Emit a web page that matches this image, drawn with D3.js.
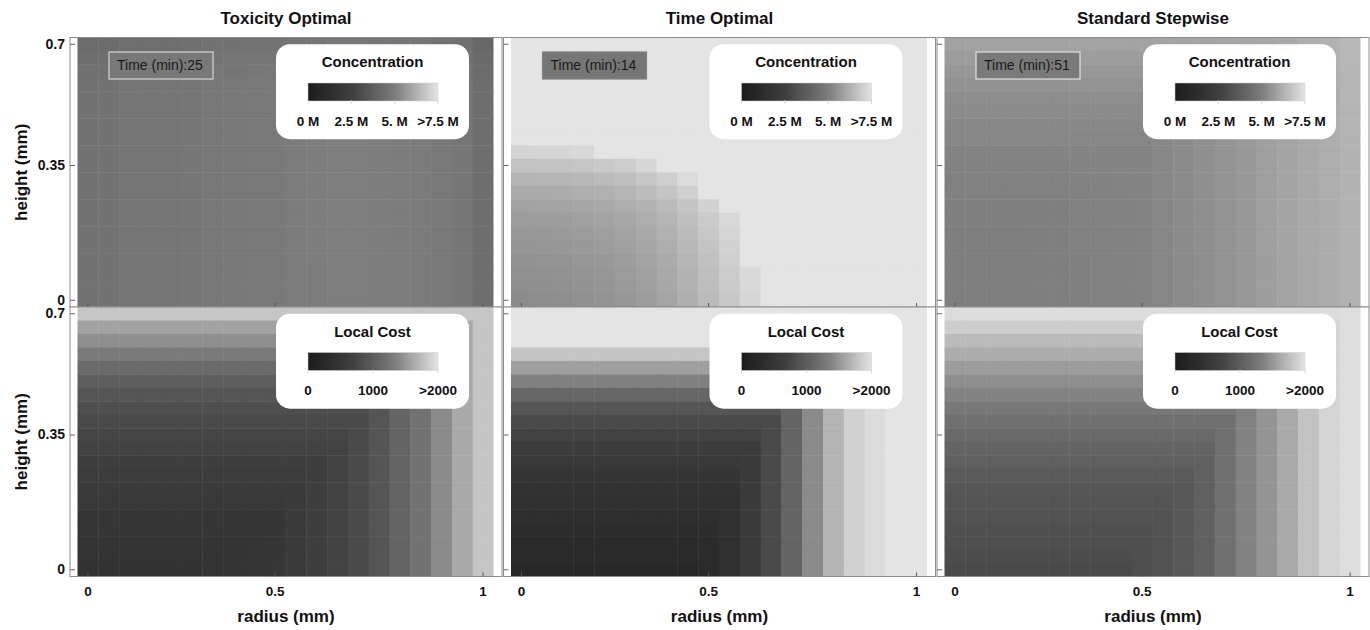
<!DOCTYPE html>
<html><head><meta charset="utf-8">
<script src="https://cdn.jsdelivr.net/npm/d3@7"></script>
<style>
body{margin:0;background:#fff}
text{font-family:"Liberation Sans",Arial,sans-serif}
</style>
</head><body>
<svg id="chart" width="1370" height="630"></svg>
<script>
// ---------- labels ----------
const panelTitles = ["Toxicity Optimal", "Time Optimal", "Standard Stepwise"];
const timesMin = [25, 14, 51];
const radiusTickLabels = ["0", "0.5", "1"];      // at column index 0, 9, 19
const heightTickLabels = ["0.7", "0.35", "0"];   // at row index 0, 9, 19
const tickIndex = [0, 9, 19];
const concLegendLabels = ["0 M", "2.5 M", "5. M", ">7.5 M"];
const concLegendValues = [0, 2.5, 5, 7.5];
const costLegendLabels = ["0", "1000", ">2000"];
const costLegendValues = [0, 1000, 2000];
const concMax = 7.5, costMax = 2000;

// ---------- data: concentration (M), rows top (0.7 mm) -> bottom (0 mm), cols r = 0 -> 1 mm ----------
const concToxicity = [
[4.35,4.35,4.47,4.47,4.47,4.51,4.59,4.59,4.63,4.63,4.75,4.77,4.80,4.80,4.77,4.75,4.71,4.63,4.51,4.19],
[4.45,4.45,4.57,4.57,4.57,4.61,4.69,4.69,4.73,4.73,4.85,4.87,4.90,4.90,4.87,4.85,4.81,4.73,4.61,4.29],
[4.52,4.52,4.64,4.64,4.64,4.68,4.76,4.76,4.80,4.80,4.92,4.94,4.97,4.97,4.94,4.92,4.88,4.80,4.68,4.36],
[4.57,4.58,4.69,4.70,4.70,4.74,4.82,4.82,4.86,4.86,4.98,5.00,5.03,5.03,5.00,4.98,4.94,4.86,4.74,4.41],
[4.59,4.60,4.71,4.72,4.72,4.76,4.84,4.84,4.88,4.88,5.00,5.02,5.05,5.05,5.02,5.00,4.96,4.88,4.76,4.43],
[4.60,4.60,4.72,4.72,4.72,4.76,4.84,4.84,4.88,4.88,5.00,5.02,5.05,5.05,5.02,5.00,4.96,4.88,4.76,4.44],
[4.60,4.60,4.72,4.72,4.72,4.76,4.84,4.84,4.88,4.88,5.00,5.02,5.05,5.05,5.02,5.00,4.96,4.88,4.76,4.44],
[4.60,4.61,4.72,4.72,4.73,4.76,4.84,4.85,4.88,4.89,5.00,5.02,5.05,5.05,5.02,5.00,4.96,4.88,4.76,4.44],
[4.60,4.60,4.72,4.72,4.72,4.76,4.84,4.84,4.88,4.88,5.00,5.02,5.05,5.05,5.02,5.00,4.96,4.88,4.76,4.44],
[4.61,4.61,4.72,4.73,4.73,4.77,4.85,4.85,4.89,4.89,5.01,5.03,5.06,5.06,5.03,5.01,4.97,4.89,4.77,4.45],
[4.60,4.60,4.72,4.72,4.72,4.76,4.84,4.84,4.88,4.88,5.00,5.02,5.05,5.05,5.02,5.00,4.96,4.88,4.76,4.44],
[4.60,4.60,4.72,4.72,4.72,4.76,4.84,4.84,4.88,4.88,5.00,5.02,5.05,5.05,5.02,5.00,4.96,4.88,4.76,4.44],
[4.61,4.61,4.73,4.73,4.73,4.77,4.85,4.85,4.89,4.89,5.01,5.03,5.06,5.06,5.03,5.01,4.97,4.89,4.77,4.45],
[4.60,4.60,4.72,4.72,4.72,4.76,4.84,4.84,4.88,4.88,5.00,5.02,5.05,5.05,5.02,5.00,4.96,4.88,4.76,4.44],
[4.60,4.60,4.72,4.72,4.72,4.76,4.84,4.84,4.88,4.88,5.00,5.02,5.05,5.05,5.02,5.00,4.96,4.88,4.76,4.44],
[4.60,4.60,4.71,4.72,4.72,4.76,4.83,4.84,4.88,4.88,5.00,5.02,5.04,5.05,5.02,5.00,4.96,4.88,4.76,4.44],
[4.60,4.60,4.72,4.72,4.72,4.76,4.84,4.84,4.88,4.88,5.00,5.02,5.05,5.05,5.02,5.00,4.96,4.88,4.76,4.44],
[4.59,4.60,4.71,4.72,4.72,4.76,4.84,4.84,4.87,4.88,5.00,5.01,5.04,5.05,5.02,5.00,4.96,4.88,4.76,4.43],
[4.59,4.59,4.71,4.71,4.71,4.75,4.83,4.83,4.87,4.87,4.99,5.01,5.04,5.04,5.01,4.99,4.95,4.87,4.75,4.43],
[4.58,4.58,4.70,4.70,4.70,4.74,4.82,4.82,4.86,4.86,4.98,5.00,5.03,5.03,5.00,4.98,4.94,4.86,4.74,4.42]
];
const concTime = [
[7.5,7.5,7.5,7.5,7.5,7.5,7.5,7.5,7.5,7.5,7.5,7.5,7.5,7.5,7.5,7.5,7.5,7.5,7.5,7.5],
[7.5,7.5,7.5,7.5,7.5,7.5,7.5,7.5,7.5,7.5,7.5,7.5,7.5,7.5,7.5,7.5,7.5,7.5,7.5,7.5],
[7.5,7.5,7.5,7.5,7.5,7.5,7.5,7.5,7.5,7.5,7.5,7.5,7.5,7.5,7.5,7.5,7.5,7.5,7.5,7.5],
[7.5,7.5,7.5,7.5,7.5,7.5,7.5,7.5,7.5,7.5,7.5,7.5,7.5,7.5,7.5,7.5,7.5,7.5,7.5,7.5],
[7.5,7.5,7.5,7.5,7.5,7.5,7.5,7.5,7.5,7.5,7.5,7.5,7.5,7.5,7.5,7.5,7.5,7.5,7.5,7.5],
[7.5,7.5,7.5,7.5,7.5,7.5,7.5,7.5,7.5,7.5,7.5,7.5,7.5,7.5,7.5,7.5,7.5,7.5,7.5,7.5],
[7.5,7.5,7.5,7.5,7.5,7.5,7.5,7.5,7.5,7.5,7.5,7.5,7.5,7.5,7.5,7.5,7.5,7.5,7.5,7.5],
[7.5,7.5,7.5,7.5,7.5,7.5,7.5,7.5,7.5,7.5,7.5,7.5,7.5,7.5,7.5,7.5,7.5,7.5,7.5,7.5],
[7.12,7.14,7.16,7.21,7.5,7.5,7.5,7.5,7.5,7.5,7.5,7.5,7.5,7.5,7.5,7.5,7.5,7.5,7.5,7.5],
[6.68,6.71,6.73,6.78,6.85,6.97,7.16,7.5,7.5,7.5,7.5,7.5,7.5,7.5,7.5,7.5,7.5,7.5,7.5,7.5],
[6.35,6.37,6.39,6.44,6.51,6.61,6.78,7.00,7.31,7.5,7.5,7.5,7.5,7.5,7.5,7.5,7.5,7.5,7.5,7.5],
[6.11,6.13,6.15,6.20,6.27,6.37,6.54,6.75,7.02,7.5,7.5,7.5,7.5,7.5,7.5,7.5,7.5,7.5,7.5,7.5],
[5.91,5.94,5.96,6.01,6.08,6.18,6.32,6.51,6.75,7.07,7.5,7.5,7.5,7.5,7.5,7.5,7.5,7.5,7.5,7.5],
[5.77,5.79,5.82,5.87,5.94,6.03,6.18,6.37,6.61,6.90,7.19,7.5,7.5,7.5,7.5,7.5,7.5,7.5,7.5,7.5],
[5.67,5.70,5.72,5.77,5.84,5.94,6.08,6.27,6.51,6.80,7.12,7.5,7.5,7.5,7.5,7.5,7.5,7.5,7.5,7.5],
[5.60,5.63,5.65,5.70,5.77,5.87,6.01,6.20,6.44,6.73,7.07,7.5,7.5,7.5,7.5,7.5,7.5,7.5,7.5,7.5],
[5.53,5.55,5.58,5.63,5.70,5.79,5.94,6.13,6.37,6.66,7.00,7.5,7.5,7.5,7.5,7.5,7.5,7.5,7.5,7.5],
[5.48,5.50,5.53,5.58,5.65,5.75,5.89,6.08,6.32,6.61,6.92,7.26,7.5,7.5,7.5,7.5,7.5,7.5,7.5,7.5],
[5.43,5.46,5.48,5.53,5.60,5.70,5.84,6.03,6.27,6.56,6.87,7.21,7.5,7.5,7.5,7.5,7.5,7.5,7.5,7.5],
[5.38,5.41,5.43,5.48,5.55,5.65,5.79,5.99,6.23,6.51,6.83,7.16,7.5,7.5,7.5,7.5,7.5,7.5,7.5,7.5]
];
const concStepwise = [
[5.92,5.92,5.92,5.92,5.92,5.92,5.93,5.93,5.93,5.94,5.95,5.96,5.97,5.99,6.01,6.03,6.08,6.20,6.29,6.44],
[5.78,5.78,5.78,5.78,5.78,5.78,5.79,5.79,5.79,5.80,5.81,5.82,5.83,5.85,5.87,5.94,6.06,6.18,6.27,6.42],
[5.66,5.66,5.66,5.66,5.66,5.66,5.67,5.67,5.67,5.68,5.69,5.70,5.71,5.73,5.77,5.92,6.04,6.16,6.25,6.40],
[5.54,5.54,5.54,5.54,5.54,5.54,5.55,5.55,5.55,5.56,5.57,5.58,5.59,5.63,5.75,5.90,6.02,6.14,6.23,6.38],
[5.42,5.42,5.42,5.42,5.42,5.42,5.43,5.43,5.43,5.44,5.45,5.46,5.49,5.61,5.73,5.88,6.00,6.12,6.21,6.36],
[5.35,5.35,5.35,5.35,5.35,5.35,5.36,5.36,5.36,5.37,5.38,5.39,5.48,5.60,5.72,5.87,5.99,6.11,6.20,6.35],
[5.27,5.27,5.27,5.27,5.27,5.27,5.28,5.28,5.28,5.29,5.30,5.38,5.47,5.59,5.71,5.86,5.98,6.10,6.19,6.34],
[5.23,5.23,5.23,5.23,5.23,5.23,5.24,5.24,5.24,5.25,5.27,5.37,5.46,5.58,5.70,5.85,5.97,6.09,6.18,6.33],
[5.18,5.18,5.18,5.18,5.18,5.18,5.19,5.19,5.19,5.20,5.27,5.37,5.46,5.58,5.70,5.85,5.97,6.09,6.18,6.33],
[5.15,5.15,5.15,5.15,5.15,5.15,5.16,5.16,5.16,5.19,5.26,5.36,5.45,5.57,5.69,5.84,5.96,6.08,6.17,6.32],
[5.13,5.13,5.13,5.13,5.13,5.13,5.14,5.14,5.16,5.19,5.26,5.36,5.45,5.57,5.69,5.84,5.96,6.08,6.17,6.32],
[5.11,5.11,5.11,5.11,5.11,5.11,5.12,5.14,5.16,5.19,5.26,5.36,5.45,5.57,5.69,5.84,5.96,6.08,6.17,6.32],
[5.08,5.08,5.08,5.08,5.08,5.08,5.11,5.13,5.15,5.18,5.25,5.35,5.44,5.56,5.68,5.83,5.95,6.07,6.16,6.31],
[5.08,5.08,5.08,5.08,5.08,5.08,5.11,5.13,5.15,5.18,5.25,5.35,5.44,5.56,5.68,5.83,5.95,6.07,6.16,6.31],
[5.06,5.06,5.06,5.06,5.08,5.08,5.11,5.13,5.15,5.18,5.25,5.35,5.44,5.56,5.68,5.83,5.95,6.07,6.16,6.31],
[5.06,5.06,5.06,5.06,5.08,5.08,5.11,5.13,5.15,5.18,5.25,5.35,5.44,5.56,5.68,5.83,5.95,6.07,6.16,6.31],
[5.05,5.05,5.05,5.05,5.07,5.07,5.10,5.12,5.14,5.17,5.24,5.34,5.43,5.55,5.67,5.82,5.94,6.06,6.15,6.30],
[5.05,5.05,5.05,5.05,5.07,5.07,5.10,5.12,5.14,5.17,5.24,5.34,5.43,5.55,5.67,5.82,5.94,6.06,6.15,6.30],
[5.05,5.05,5.05,5.05,5.07,5.07,5.10,5.12,5.14,5.17,5.24,5.34,5.43,5.55,5.67,5.82,5.94,6.06,6.15,6.30],
[5.05,5.05,5.05,5.05,5.07,5.07,5.10,5.12,5.14,5.17,5.24,5.34,5.43,5.55,5.67,5.82,5.94,6.06,6.15,6.30]
];

// ---------- data: local cost ----------
const costToxicity = [
[1810,1810,1810,1810,1810,1810,1810,1810,1810,1810,1810,1810,1810,1810,1810,1810,1810,1810,1810,1810],
[1580,1580,1580,1580,1580,1580,1580,1580,1580,1580,1580,1580,1580,1580,1580,1580,1580,1580,1620,1800],
[1450,1450,1450,1450,1450,1450,1450,1450,1450,1450,1450,1450,1450,1450,1450,1450,1450,1450,1620,1800],
[1310,1310,1310,1310,1310,1310,1310,1310,1310,1310,1310,1310,1310,1310,1310,1310,1310,1420,1620,1800],
[1140,1140,1140,1140,1140,1140,1140,1140,1140,1140,1140,1140,1140,1140,1140,1140,1230,1420,1620,1800],
[1010,1010,1010,1010,1010,1010,1010,1010,1010,1010,1010,1010,1010,1010,1010,1080,1230,1420,1620,1800],
[910,910,910,910,910,910,910,910,910,910,910,910,910,910,910,1080,1230,1420,1620,1800],
[840,840,840,840,840,840,840,840,840,840,840,840,840,840,910,1080,1230,1420,1620,1800],
[800,800,800,800,800,800,800,800,800,800,800,800,800,800,910,1080,1230,1420,1620,1800],
[740,740,740,740,740,740,740,740,740,740,740,740,740,800,910,1080,1230,1420,1620,1800],
[710,710,710,710,710,710,710,710,710,710,710,710,720,800,910,1080,1230,1420,1620,1800],
[670,670,670,670,670,670,670,670,670,670,670,670,720,800,910,1080,1230,1420,1620,1800],
[630,630,630,630,630,630,630,630,630,630,630,670,720,800,910,1080,1230,1420,1620,1800],
[590,590,590,590,590,590,590,590,590,590,590,670,720,800,910,1080,1230,1420,1620,1800],
[550,550,550,550,550,550,550,550,550,550,590,670,720,800,910,1080,1230,1420,1620,1800],
[510,510,510,510,510,510,510,510,510,510,590,670,720,800,910,1080,1230,1420,1620,1800],
[490,490,490,490,490,490,490,490,490,510,590,670,720,800,910,1080,1230,1420,1620,1800],
[470,470,470,470,470,470,470,470,490,510,590,670,720,800,910,1080,1230,1420,1620,1800],
[450,450,450,450,450,450,450,470,490,510,590,670,720,800,910,1080,1230,1420,1620,1800],
[430,430,430,430,430,430,450,470,490,510,590,670,720,800,910,1080,1230,1420,1620,1800]
];
const costTime = [
[2100,2100,2100,2100,2100,2100,2100,2100,2100,2100,2100,2100,2100,2100,2100,2100,2100,2100,2100,2100],
[2100,2100,2100,2100,2100,2100,2100,2100,2100,2100,2100,2100,2100,2100,2100,2100,2100,2100,2100,2100],
[2100,2100,2100,2100,2100,2100,2100,2100,2100,2100,2100,2100,2100,2100,2100,2100,2100,2100,2100,2100],
[1800,1800,1800,1800,1800,1800,1800,1800,1800,1800,1800,1800,1800,1800,1800,1800,1880,1950,2100,2100],
[1560,1560,1560,1560,1560,1560,1560,1560,1560,1560,1560,1560,1560,1560,1560,1690,1880,1950,2100,2100],
[1360,1360,1360,1360,1360,1360,1360,1360,1360,1360,1360,1360,1360,1360,1420,1690,1880,1950,2100,2100],
[1100,1100,1100,1100,1100,1100,1100,1100,1100,1100,1100,1100,1100,1100,1420,1690,1880,1950,2100,2100],
[910,910,910,910,910,910,910,910,910,910,910,910,910,1080,1420,1690,1880,1950,2100,2100],
[800,800,800,800,800,800,800,800,800,800,800,800,800,1080,1420,1690,1880,1950,2100,2100],
[710,710,710,710,710,710,710,710,710,710,710,710,800,1080,1420,1690,1880,1950,2100,2100],
[630,630,630,630,630,630,630,630,630,630,630,630,800,1080,1420,1690,1880,1950,2100,2100],
[550,550,550,550,550,550,550,550,550,550,550,590,800,1080,1420,1690,1880,1950,2100,2100],
[470,470,470,470,470,470,470,470,470,470,470,590,800,1080,1420,1690,1880,1950,2100,2100],
[430,430,430,430,430,430,430,430,430,430,430,590,800,1080,1420,1690,1880,1950,2100,2100],
[390,390,390,390,390,390,390,390,390,390,390,590,800,1080,1420,1690,1880,1950,2100,2100],
[350,350,350,350,350,350,350,350,350,350,390,590,800,1080,1420,1690,1880,1950,2100,2100],
[310,310,310,310,310,310,310,310,310,310,390,590,800,1080,1420,1690,1880,1950,2100,2100],
[290,290,290,290,290,290,290,290,290,290,390,590,800,1080,1420,1690,1880,1950,2100,2100],
[270,270,270,270,270,270,270,270,270,290,390,590,800,1080,1420,1690,1880,1950,2100,2100],
[240,240,240,240,240,240,240,240,240,290,390,590,800,1080,1420,1690,1880,1950,2100,2100]
];
const costStepwise = [
[1950,1950,1950,1950,1950,1950,1950,1950,1950,1950,1950,1950,1950,1950,1950,1950,1950,1950,1950,1960],
[1850,1850,1850,1850,1850,1850,1850,1850,1850,1850,1850,1850,1850,1850,1850,1850,1850,1850,1900,1960],
[1740,1740,1740,1740,1740,1740,1740,1740,1740,1740,1740,1740,1740,1740,1740,1740,1740,1780,1900,1960],
[1640,1640,1640,1640,1640,1640,1640,1640,1640,1640,1640,1640,1640,1640,1640,1640,1640,1780,1900,1960],
[1540,1540,1540,1540,1540,1540,1540,1540,1540,1540,1540,1540,1540,1540,1540,1540,1630,1780,1900,1960],
[1450,1450,1450,1450,1450,1450,1450,1450,1450,1450,1450,1450,1450,1450,1450,1490,1630,1780,1900,1960],
[1370,1370,1370,1370,1370,1370,1370,1370,1370,1370,1370,1370,1370,1370,1370,1490,1630,1780,1900,1960],
[1290,1290,1290,1290,1290,1290,1290,1290,1290,1290,1290,1290,1290,1290,1370,1490,1630,1780,1900,1960],
[1200,1200,1200,1200,1200,1200,1200,1200,1200,1200,1200,1200,1200,1200,1370,1490,1630,1780,1900,1960],
[1130,1130,1130,1130,1130,1130,1130,1130,1130,1130,1130,1130,1130,1200,1370,1490,1630,1780,1900,1960],
[1070,1070,1070,1070,1070,1070,1070,1070,1070,1070,1070,1070,1070,1200,1370,1490,1630,1780,1900,1960],
[1020,1020,1020,1020,1020,1020,1020,1020,1020,1020,1020,1020,1030,1200,1370,1490,1630,1780,1900,1960],
[970,970,970,970,970,970,970,970,970,970,970,970,1030,1200,1370,1490,1630,1780,1900,1960],
[930,930,930,930,930,930,930,930,930,930,930,950,1030,1200,1370,1490,1630,1780,1900,1960],
[900,900,900,900,900,900,900,900,900,900,900,950,1030,1200,1370,1490,1630,1780,1900,1960],
[880,880,880,880,880,880,880,880,880,880,880,950,1030,1200,1370,1490,1630,1780,1900,1960],
[860,860,860,860,860,860,860,860,860,860,880,950,1030,1200,1370,1490,1630,1780,1900,1960],
[840,840,840,840,840,840,840,840,840,840,880,950,1030,1200,1370,1490,1630,1780,1900,1960],
[820,820,820,820,820,820,820,820,820,840,880,950,1030,1200,1370,1490,1630,1780,1900,1960],
[800,800,800,800,800,800,800,800,800,840,880,950,1030,1200,1370,1490,1630,1780,1900,1960]
];

const concGrids = [concToxicity, concTime, concStepwise];
const costGrids = [costToxicity, costTime, costStepwise];

// ---------- styling / layout ----------
const svg = d3.select("#chart");
svg.append("rect").attr("width",1370).attr("height",630).attr("fill","#fff");

const gray = d3.scaleLinear()
  .domain([0, 1/3, 2/3, 1])
  .range(["#1c1c1c", "#3e3e3e", "#7c7c7c", "#e4e4e4"])
  .clamp(true);

const frameLefts = [70, 503.5, 937];
const frameW = 432, imgOff = 7.5, imgW = 416;
const rowTops = [37.5, 307];
const frameH = 269.5;
const timeBoxFill = ["#787878", "#767676", "#7a7a7a"];
const timeBoxStroke = ["#d4d4d4", "#808080", "#e2e2e2"];

const defs = svg.append("defs");
const grad = defs.append("linearGradient").attr("id","gt");
d3.range(0, 1.0001, 0.05).forEach(t => grad.append("stop").attr("offset", t).attr("stop-color", gray(t)));

const idx = d3.range(20);
const FONT = '"Liberation Sans",Arial,sans-serif';

function drawPanel(col, row, grid, maxV, legendTitle, legendLabels, legendValues) {
  const fx = frameLefts[col], fy = rowTops[row];
  const x = d3.scaleBand().domain(idx).range([fx + imgOff, fx + imgOff + imgW]);
  const y = d3.scaleBand().domain(idx).range([fy, fy + frameH]);
  const g = svg.append("g");
  g.append("rect").attr("x", fx).attr("y", fy).attr("width", frameW).attr("height", frameH)
    .attr("fill", "#fff");
  const cells = grid.flatMap((r, ri) => r.map((v, ci) => ({ri, ci, v})));
  const last = idx.length - 1;
  g.selectAll("rect.cell").data(cells).join("rect").attr("class","cell")
    .attr("x", d => x(d.ci)).attr("y", d => y(d.ri))
    .attr("width", d => x.bandwidth() + (d.ci < last ? 0.45 : 0))
    .attr("height", d => y.bandwidth() + (d.ri < last ? 0.45 : 0))
    .attr("fill", d => gray(d.v / maxV));
  g.append("rect").attr("x", fx).attr("y", fy).attr("width", frameW).attr("height", frameH)
    .attr("fill", "none").attr("stroke", "#8c8c8c").attr("stroke-width", 1);

  // axes (ticks inward)
  const ax = d3.axisLeft(y).tickValues(tickIndex).tickSize(-5).tickPadding(5)
    .tickFormat((d, i) => col === 0 ? heightTickLabels[i] : "");
  const ga = g.append("g").attr("transform", `translate(${fx},0)`).call(ax);
  ga.select(".domain").remove();
  ga.selectAll("line").attr("stroke", "#666");
  ga.selectAll("text").attr("font-size", 14).attr("font-weight", "bold").attr("fill", "#111")
    .attr("font-family", FONT);

  const bx = d3.axisBottom(x).tickValues(tickIndex).tickSize(-4).tickPadding(10)
    .tickFormat((d, i) => row === 1 ? radiusTickLabels[i] : "");
  const gb = g.append("g").attr("transform", `translate(0,${fy + frameH})`).call(bx);
  gb.select(".domain").remove();
  gb.selectAll("line").attr("stroke", "#555");
  gb.selectAll("text").attr("font-size", 13.5).attr("font-weight", "bold").attr("fill", "#111")
    .attr("font-family", FONT);

  // time box (top row only)
  const ix = fx + imgOff;
  if (row === 0) {
    g.append("rect").attr("x", ix + 31.5).attr("y", fy + 14.5).attr("width", 104).attr("height", 27)
      .attr("fill", timeBoxFill[col]).attr("stroke", timeBoxStroke[col]).attr("stroke-width", 1.2);
    g.append("text").attr("x", ix + 39.5).attr("y", fy + 32.8).attr("font-size", 14)
      .attr("fill", "#1a1a1a").text("Time (min):" + timesMin[col]);
  }

  // legend
  const lx = ix + 198.5, ly = fy + 6.7;
  g.append("rect").attr("x", lx).attr("y", ly).attr("width", 193).attr("height", 95)
    .attr("rx", 14).attr("fill", "#fff");
  g.append("text").attr("x", lx + 96.5).attr("y", fy + 29.5).attr("text-anchor", "middle")
    .attr("font-size", 15).attr("font-weight", "bold").attr("fill", "#111").text(legendTitle);
  const barX = lx + 32, barW = 130, barY = fy + 45.5, barH = 18;
  g.append("rect").attr("x", barX).attr("y", barY).attr("width", barW).attr("height", barH)
    .attr("fill", "url(#gt)").attr("stroke", "#d0d0d0").attr("stroke-width", 0.5);
  const ls = d3.scaleLinear().domain([0, maxV]).range([barX, barX + barW]);
  g.selectAll("line.lt").data(legendValues).join("line").attr("class","lt")
    .attr("x1", d => ls(d)).attr("x2", d => ls(d))
    .attr("y1", barY + barH - 1).attr("y2", barY + barH + 3)
    .attr("stroke", "#cfcfcf").attr("stroke-width", 0.8);
  g.selectAll("text.ll").data(legendValues).join("text").attr("class","ll")
    .attr("x", d => ls(d)).attr("y", fy + 88).attr("text-anchor", "middle")
    .attr("font-size", 13.5).attr("font-weight", "bold").attr("fill", "#111")
    .text((d, i) => legendLabels[i]);
}

for (let c = 0; c < 3; c++) {
  drawPanel(c, 0, concGrids[c], concMax, "Concentration", concLegendLabels, concLegendValues);
  drawPanel(c, 1, costGrids[c], costMax, "Local Cost", costLegendLabels, costLegendValues);
  svg.append("text").attr("x", frameLefts[c] + frameW / 2).attr("y", 23.5).attr("text-anchor", "middle")
    .attr("font-size", 17).attr("font-weight", "bold").attr("fill", "#111").text(panelTitles[c]);
  svg.append("text").attr("x", frameLefts[c] + frameW / 2).attr("y", 622).attr("text-anchor", "middle")
    .attr("font-size", 17).attr("font-weight", "bold").attr("fill", "#111").text("radius (mm)");
}
[rowTops[0] + frameH / 2, rowTops[1] + frameH / 2].forEach(cy => {
  svg.append("text").attr("transform", `translate(27,${cy}) rotate(-90)`).attr("text-anchor", "middle")
    .attr("font-size", 17).attr("font-weight", "bold").attr("fill", "#111").text("height (mm)");
});
</script>
</body></html>
